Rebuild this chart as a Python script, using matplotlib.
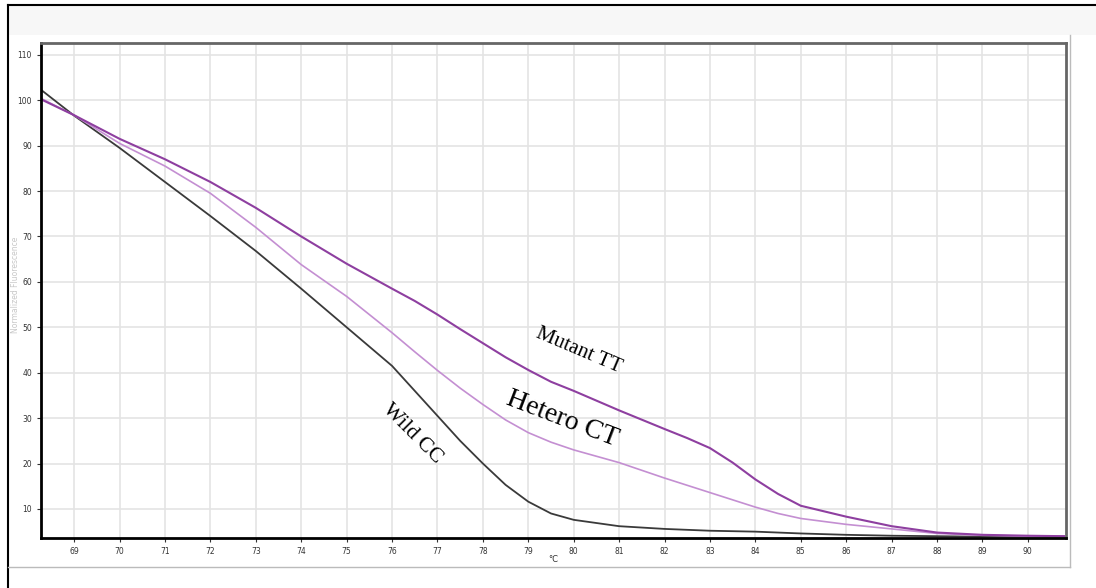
import matplotlib.pyplot as plt
import numpy as np

# temperature (deg C) and normalized fluorescence
temp = [68.27, 69, 70, 71, 72, 73, 74, 75, 76, 76.5, 77, 77.5, 78, 78.5, 79, 79.5, 80,
        81, 82, 82.5, 83, 83.5, 84, 84.5, 85, 86, 87, 88, 89, 90, 90.8]
wild_cc = [102.3, 96.6, 89.5, 82.0, 74.5, 66.8, 58.5, 50.0, 41.5, 36.0, 30.5, 25.0, 20.0,
           15.3, 11.6, 9.0, 7.6, 6.2, 5.6, 5.4, 5.2, 5.1, 5.0, 4.8, 4.6, 4.3, 4.1, 4.0, 3.9, 3.9, 3.9]
hetero_ct = [100.4, 96.7, 90.5, 85.5, 79.5, 72.0, 63.8, 56.8, 48.8, 44.6, 40.5, 36.6, 33.0,
             29.6, 26.8, 24.7, 23.0, 20.2, 16.8, 15.2, 13.6, 12.0, 10.4, 9.0, 7.9, 6.6, 5.6, 4.6, 4.2, 4.0, 4.0]
mutant_tt = [100.2, 96.7, 91.5, 87.0, 82.0, 76.3, 70.0, 64.0, 58.5, 55.8, 52.8, 49.6, 46.5,
             43.4, 40.6, 38.0, 36.0, 31.7, 27.6, 25.6, 23.4, 20.2, 16.5, 13.3, 10.7, 8.3, 6.2, 4.8, 4.3, 4.1, 4.0]

xticks = list(range(69, 91))
yticks = list(range(10, 111, 10))

fig = plt.figure(figsize=(10.96, 5.88), dpi=100)
fig.patch.set_facecolor('white')

# outer frame / panel decorations
fig.patches.append(plt.Rectangle((8/1096, 1-35/588), 1-8/1096, 30/588, transform=fig.transFigure,
                                 facecolor='#f7f7f7', edgecolor='none', zorder=0))
fig.add_artist(plt.Line2D([8/1096, 1], [1-5/588, 1-5/588], color='black', lw=1.5))
fig.add_artist(plt.Line2D([8/1096, 8/1096], [0, 1-5/588], color='black', lw=1.5))
fig.add_artist(plt.Line2D([8/1096, 1070/1096], [1-567/588, 1-567/588], color='#bbbbbb', lw=1))
fig.add_artist(plt.Line2D([1070/1096, 1070/1096], [1-567/588, 1-35/588], color='#bbbbbb', lw=1))

ax = fig.add_axes([41/1096, 1-538/588, (1066-41)/1096, (538-43)/588])
ax.plot(temp, wild_cc, color='#3a3a3a', lw=1.3)
ax.plot(temp, hetero_ct, color='#c48fd2', lw=1.2)
ax.plot(temp, mutant_tt, color='#8e3fa0', lw=1.5)

ax.set_xlim(68.27, 90.84)
ax.set_ylim(3.6, 112.6)
ax.set_xticks(xticks)
ax.set_yticks(yticks)
ax.tick_params(labelsize=5.5, colors='#333333', length=3, width=0.8)
ax.grid(True, color='#e4e4e4', lw=1.2)
ax.set_axisbelow(True)
for s in ['left', 'bottom']:
    ax.spines[s].set_color('black')
    ax.spines[s].set_linewidth(2)
for s in ['top', 'right']:
    ax.spines[s].set_color('#666666')
    ax.spines[s].set_linewidth(2)

fig.text(16/1096, 1-285/588, 'Normalized Fluorescence', fontsize=5.5, color='#c8c8c8',
         rotation=90, ha='center', va='center')
fig.text(553/1096, 1-560/588, '°C', fontsize=6, color='#333333', ha='center', va='center')

serif = ['Liberation Serif', 'DejaVu Serif']
ax.text(80.1, 44.8, 'Mutant TT', fontsize=15, family=serif, rotation=-23,
        ha='center', va='center')
ax.text(79.75, 29.8, 'Hetero CT', fontsize=20, family=serif, rotation=-21,
        ha='center', va='center')
ax.text(76.45, 26.6, 'Wild CC', fontsize=15.5, family=serif, rotation=-45,
        ha='center', va='center')

fig.savefig('out.png', dpi=100)
